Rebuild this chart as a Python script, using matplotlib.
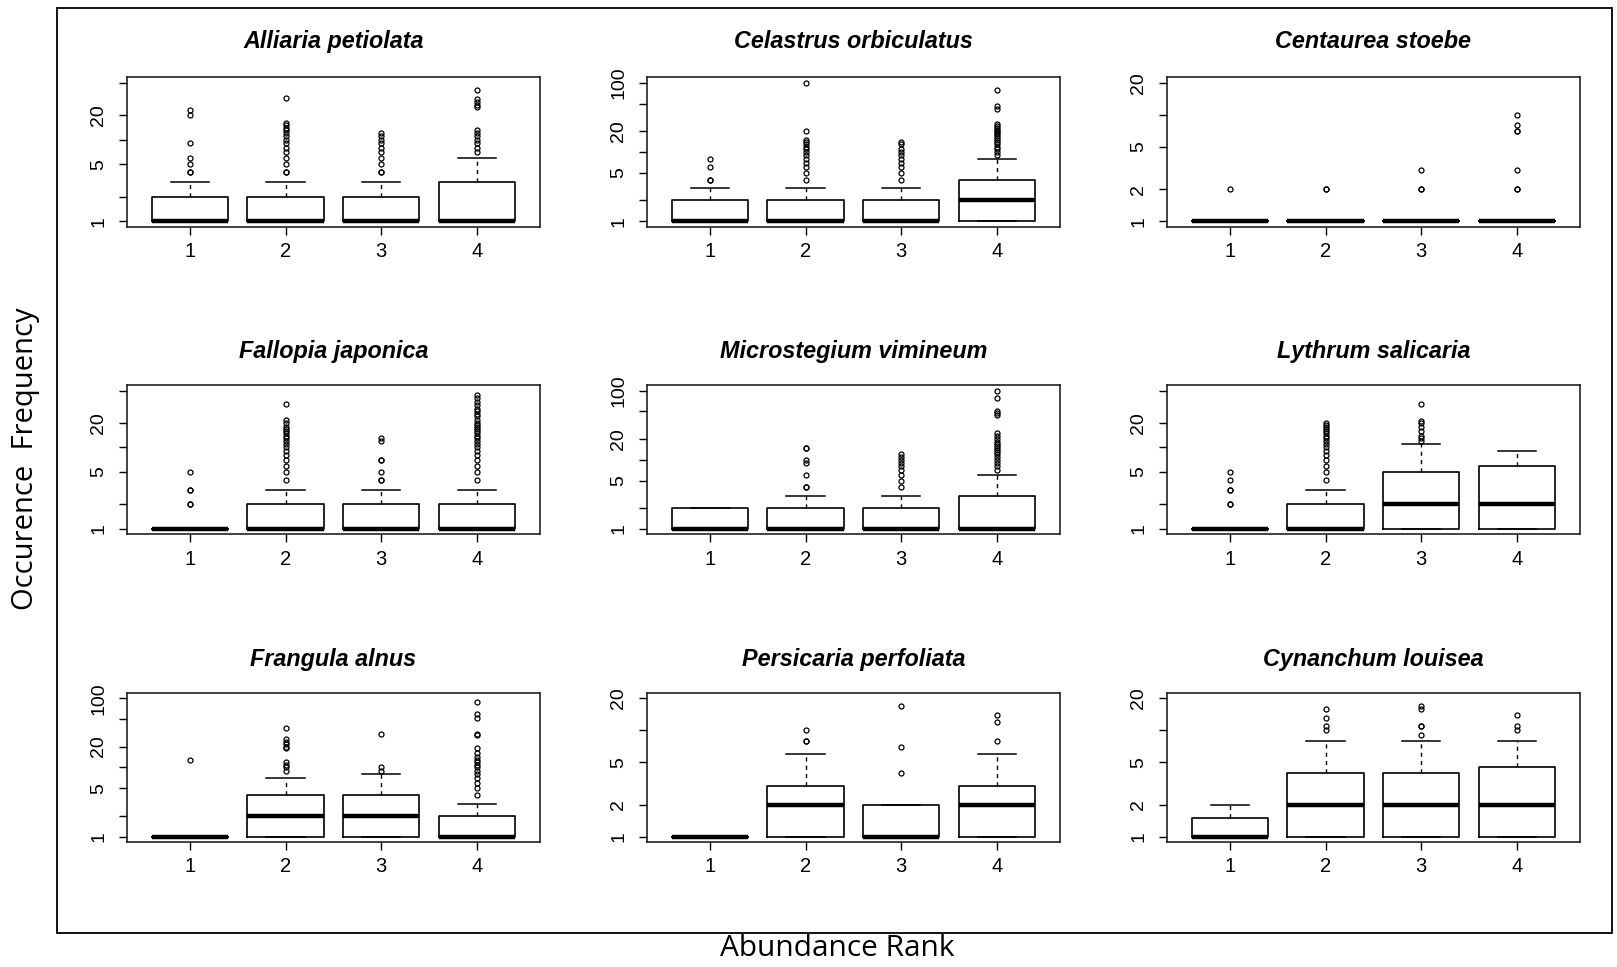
import math
import matplotlib
matplotlib.use("Agg")
import matplotlib.pyplot as plt
from matplotlib.patches import Rectangle

# ---------------- data ----------------
species = ["Alliaria petiolata", "Celastrus orbiculatus", "Centaurea stoebe",
           "Fallopia japonica", "Microstegium vimineum", "Lythrum salicaria",
           "Frangula alnus", "Persicaria perfoliata", "Cynanchum louisea"]
ranks = [1, 2, 3, 4]

whislo = [[1, 1, 1, 1]] * 9
q1 = [[1, 1, 1, 1]] * 9
median = [[1, 1, 1, 1], [1, 1, 1, 2], [1, 1, 1, 1],
          [1, 1, 1, 1], [1, 1, 1, 1], [1, 1, 2, 2],
          [1, 2, 2, 1], [1, 2, 1, 2], [1, 2, 2, 2]]
q3 = [[2, 2, 2, 3], [2, 2, 2, 4], [1, 1, 1, 1],
      [1, 2, 2, 2], [2, 2, 2, 3], [1, 2, 5, 6],
      [1, 4, 4, 2], [1, 3, 2, 3], [1.5, 4, 4, 4.5]]
whishi = [[3, 3, 3, 6], [3, 3, 3, 8], [1, 1, 1, 1],
          [1, 3, 3, 3], [2, 3, 3, 6], [1, 3, 11, 9],
          [1, 7, 8, 3], [1, 6, 2, 6], [2, 8, 8, 8]]
outliers = [
    [[4, 4, 5, 6, 9, 20, 23],
     [4, 4, 5, 6, 7, 8, 9, 10, 11, 12, 13, 14, 15, 16, 33],
     [4, 4, 5, 6, 7, 8, 9, 10, 11, 12],
     [7, 8, 9, 10, 11, 12, 13, 25, 27, 29, 32, 41]],
    [[4, 4, 6, 8],
     [4, 5, 6, 7, 8, 9, 10, 11, 12, 13, 14, 15, 20, 100],
     [4, 5, 6, 7, 8, 9, 10, 11, 13, 14],
     [9, 10, 11, 12, 13, 14, 15, 16, 17, 18, 19, 20, 21, 22, 24, 25, 42, 47, 78]],
    [[2], [2, 2], [2, 2, 3], [2, 2, 3, 7, 7, 8, 10]],
    [[2, 2, 3, 3, 5],
     [4, 5, 6, 7, 8, 9, 10, 11, 12, 13, 14, 15, 16, 17, 18, 20, 22, 34],
     [4, 4, 5, 7, 7, 12, 13],
     [4, 5, 6, 7, 8, 9, 10, 11, 12, 13, 14, 15, 16, 17, 18, 19, 20, 22, 24, 26,
      28, 30, 33, 36, 40, 44]],
    [[],
     [4, 4, 6, 9, 10, 15, 15],
     [4, 5, 6, 7, 8, 9, 10, 11, 12],
     [7, 8, 9, 10, 11, 12, 13, 14, 15, 16, 17, 18, 20, 22, 24, 45, 48, 50, 78, 100]],
    [[2, 2, 3, 3, 4, 5],
     [4, 5, 6, 7, 8, 9, 10, 11, 12, 13, 14, 15, 16, 17, 18, 19, 20],
     [12, 13, 14, 16, 18, 20, 21, 34],
     []],
    [[13],
     [9, 10, 11, 12, 19, 20, 22, 23, 26, 37],
     [9, 10, 30],
     [4, 5, 6, 7, 8, 9, 10, 11, 12, 13, 14, 16, 19, 29, 30, 51, 60, 89]],
    [[], [8, 8, 10], [4, 7, 17], [8, 12, 14]],
    [[], [10, 11, 13, 16], [9, 11, 11, 16, 17], [10, 11, 14]],
]
ymax = [50, 100, 20, 50, 100, 50, 100, 20, 20]
tick_values = [1, 2, 5, 10, 20, 50, 100]
labeled_ticks = [[1, 5, 20], [1, 5, 20, 100], [1, 2, 5, 20],
                 [1, 5, 20], [1, 5, 20, 100], [1, 5, 20],
                 [1, 5, 20, 100], [1, 2, 5, 20], [1, 2, 5, 20]]

# ---------------- figure ----------------
W, H = 1617, 967
fig = plt.figure(figsize=(W / 100, H / 100), dpi=100)
fig.patch.set_facecolor("white")

col_left = [126.7, 646.7, 1166.7]
ax_w = 413.3
row_top = [77.3, 385.0, 692.7]
ax_h = 149.4
title_offset = [35.6, 33.5, 33.0]

tick_font = "Liberation Sans"

for i, name in enumerate(species):
    r, c = divmod(i, 3)
    left = col_left[c] / W
    bottom = 1 - (row_top[r] + ax_h) / H
    ax = fig.add_axes([left, bottom, ax_w / W, ax_h / H])
    stats = []
    for j in range(4):
        stats.append(dict(whislo=whislo[i][j], q1=q1[i][j], med=median[i][j],
                          q3=q3[i][j], whishi=whishi[i][j], fliers=outliers[i][j]))
    ax.bxp(stats, positions=ranks, widths=0.8, capwidths=0.4,
           patch_artist=False, manage_ticks=False,
           boxprops=dict(color="black", linewidth=1.2),
           medianprops=dict(color="black", linewidth=3.2, solid_capstyle="butt"),
           whiskerprops=dict(color="black", linewidth=1.0, linestyle=(0, (3, 3))),
           capprops=dict(color="black", linewidth=1.1),
           flierprops=dict(marker="o", markersize=3.6, markerfacecolor="none",
                           markeredgecolor="black", markeredgewidth=0.9,
                           linestyle="none"))
    ax.set_yscale("log")
    lo, hi = 1.0, float(ymax[i])
    span = math.log10(hi) - math.log10(lo)
    ax.set_ylim(10 ** (-0.04 * span), 10 ** (math.log10(hi) + 0.04 * span))
    ax.set_xlim(0.34, 4.66)
    ticks = [t for t in tick_values if t <= ymax[i]]
    ax.set_yticks(ticks)
    ax.set_yticklabels([str(t) if t in labeled_ticks[i] else "" for t in ticks],
                       rotation=90, va="center", fontsize=14, family=tick_font)
    ax.yaxis.set_minor_locator(matplotlib.ticker.NullLocator())
    ax.set_xticks(ranks)
    ax.set_xticklabels([str(k) for k in ranks], fontsize=14.5, family=tick_font)
    ax.tick_params(axis="both", direction="out", length=6, width=1.0, colors="black")
    ax.tick_params(axis="x", pad=5)
    ax.tick_params(axis="y", pad=8)
    for s in ax.spines.values():
        s.set_linewidth(1.2)
        s.set_color("#222222")
    ax.text(0.5, 1 + title_offset[r] / ax_h, name, transform=ax.transAxes,
            ha="center", va="center", fontsize=16.8, fontweight="bold",
            fontstyle="italic", family=tick_font)

# outer frame
fx0, fx1, fy0, fy1 = 57, 1612, 8, 933
fig.add_artist(Rectangle((fx0 / W, 1 - fy1 / H), (fx1 - fx0) / W, (fy1 - fy0) / H,
                         transform=fig.transFigure, fill=False,
                         edgecolor="black", linewidth=1.3))

fig.text(26 / W, 1 - 459 / H, "Occurence  Frequency", rotation=90,
         ha="center", va="center", fontsize=21, family="Open Sans")
fig.text(837 / W, 1 - 949 / H, "Abundance Rank",
         ha="center", va="center", fontsize=21.5, family="Open Sans")

fig.savefig("out.png", dpi=100, facecolor="white")
